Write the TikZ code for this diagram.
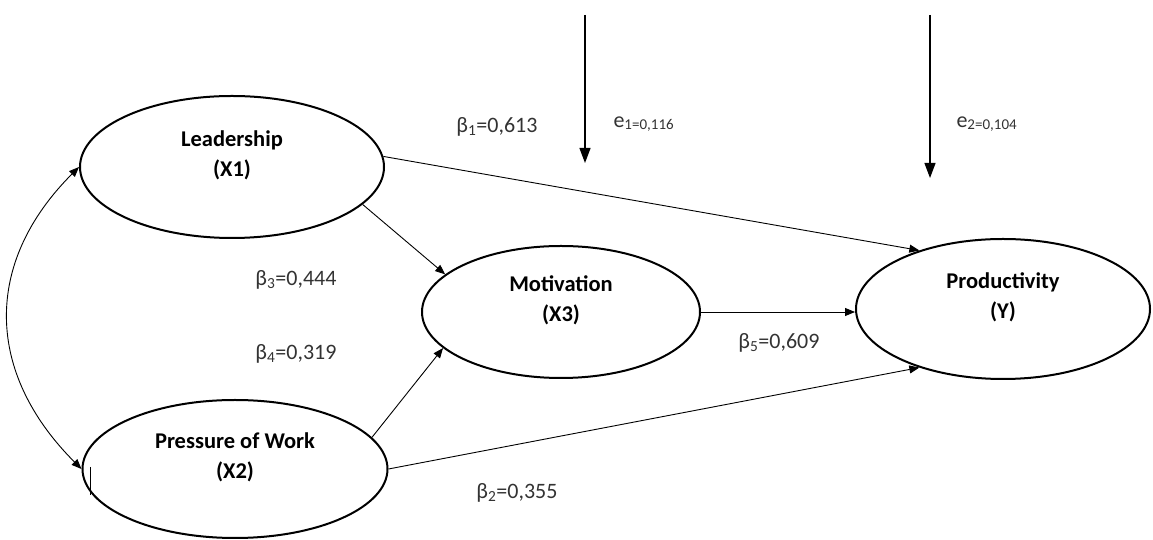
\documentclass[tikz,border=0pt]{standalone}
\usepackage{fontspec}
\setmainfont{Carlito}
\usetikzlibrary{shapes.geometric, arrows.meta}
\tikzstyle{latent} = [ellipse, draw=black, line width=2pt, inner sep=0pt, align=center, text depth=26pt, font=\bfseries\fontsize{22.5}{30}\selectfont]
\tikzstyle{coef} = [text=black!80, font=\fontsize{22}{26}\selectfont]
\tikzstyle{path} = [line width=0.9pt, -{Triangle[length=10pt,width=8pt]}]
\tikzstyle{errpath} = [line width=1.2pt, -{Triangle[length=15pt,width=11pt]}]
\newcommand{\errlabel}[2]{e\raisebox{-2pt}{\fontsize{15}{15}\selectfont #1=#2}}

\begin{document}
\begin{tikzpicture}[x=1pt, y=1pt]
		\useasboundingbox (0,0) rectangle (1153,540);
		\node (lead) [latent, minimum width=304pt, minimum height=142pt] at (232,373) {Leadership\\(X1)};
		\node (motiv) [latent, minimum width=278pt, minimum height=132pt] at (561,228) {Motivation\\(X3)};
		\node (prod) [latent, minimum width=294pt, minimum height=140pt] at (1003,231) {Productivity\\(Y)};
		\node (press) [latent, minimum width=305pt, minimum height=138pt] at (235,71) {Pressure of Work\\(X2)};
		\coordinate (e1top) at (585,525);
		\coordinate (e1end) at (585,377);
		\coordinate (e2top) at (930,525);
		\coordinate (e2end) at (930,362);
	
		% Structural paths
		\draw [path] (lead.4) -- (prod.145);
		\draw [path] (lead.344) -- (motiv.162);
		\draw [path] (press.13) -- (motiv.197);
		\draw [path] (press.east) -- (prod.215);
		\draw [path] (motiv.east) -- (motiv.east -| prod.west);
		\draw [line width=0.9pt, {Triangle[length=10pt,width=8pt]}-{Triangle[length=10pt,width=8pt]}] (lead.west) to[out=225, in=135, looseness=1.15] (press.west);
		\draw [line width=0.6pt] ([xshift=9pt,yshift=2pt]press.west) -- ++(0,-28);
		% Error terms
		\draw [errpath] (e1top) -- (e1end);
		\draw [errpath] (e2top) -- (e2end);
		\node (e1) [coef, anchor=west] at (610,416) {\errlabel{1}{0,116}};
		\node (e2) [coef, anchor=west] at (953,416) {\errlabel{2}{0,104}};
		% Coefficients
		\node (b1) [coef] at (497,413) {β\textsubscript{1}=0,613};
		\node (b2) [coef] at (517,47) {β\textsubscript{2}=0,355};
		\node (b3) [coef] at (296,260) {β\textsubscript{3}=0,444};
		\node (b4) [coef] at (296,186) {β\textsubscript{4}=0,319};
		\node (b5) [coef] at (779,197) {β\textsubscript{5}=0,609};
	\end{tikzpicture}
\end{document}
